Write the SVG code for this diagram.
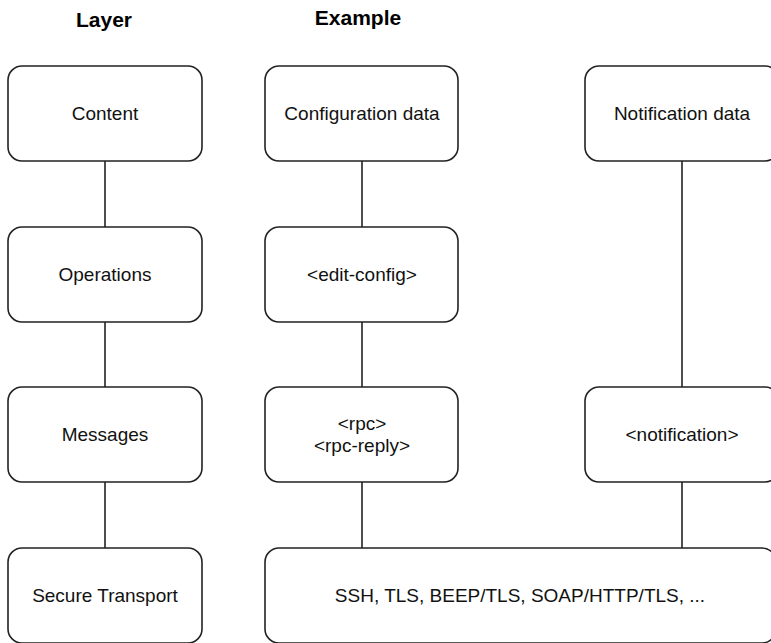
<svg xmlns="http://www.w3.org/2000/svg" width="771" height="643" viewBox="0 0 771 643">
<style>
.box{fill:#fff;stroke:#222;stroke-width:1.6}
.lbl{font-family:"Liberation Sans",Arial,sans-serif;font-size:19px;fill:#111;text-anchor:middle}
.hdr{font-family:"Liberation Sans",Arial,sans-serif;font-size:21px;font-weight:bold;fill:#000;text-anchor:middle}
.edge{stroke:#222;stroke-width:1.6;fill:none}
</style>
<rect width="771" height="643" fill="#fff"/>
<text class="hdr" x="104" y="27">Layer</text>
<text class="hdr" x="358" y="25">Example</text>
<g id="connectors">
<line class="edge" x1="105" y1="161" x2="105" y2="227"/>
<line class="edge" x1="105" y1="322" x2="105" y2="387"/>
<line class="edge" x1="105" y1="482" x2="105" y2="548"/>
<line class="edge" x1="362" y1="161" x2="362" y2="227"/>
<line class="edge" x1="362" y1="322" x2="362" y2="387"/>
<line class="edge" x1="362" y1="482" x2="362" y2="548"/>
<line class="edge" x1="682" y1="161" x2="682" y2="387"/>
<line class="edge" x1="682" y1="482" x2="682" y2="548"/>
</g>
<g id="content"><rect class="box" x="8" y="66" width="194" height="95" rx="14"/><text class="lbl" x="105" y="120">Content</text></g>
<g id="operations"><rect class="box" x="8" y="227" width="194" height="95" rx="14"/><text class="lbl" x="105" y="281">Operations</text></g>
<g id="messages"><rect class="box" x="8" y="387" width="194" height="95" rx="14"/><text class="lbl" x="105" y="441">Messages</text></g>
<g id="secure-transport"><rect class="box" x="8" y="548" width="194" height="95" rx="14"/><text class="lbl" x="105" y="602">Secure Transport</text></g>
<g id="configuration-data"><rect class="box" x="265" y="66" width="193" height="95" rx="14"/><text class="lbl" x="362" y="120">Configuration data</text></g>
<g id="edit-config"><rect class="box" x="265" y="227" width="193" height="95" rx="14"/><text class="lbl" x="362" y="281">&lt;edit-config&gt;</text></g>
<g id="rpc"><rect class="box" x="265" y="387" width="193" height="95" rx="14"/><text class="lbl" x="362" y="430">&lt;rpc&gt;</text><text class="lbl" x="362" y="452">&lt;rpc-reply&gt;</text></g>
<g id="notification-data"><rect class="box" x="585" y="66" width="194" height="95" rx="14"/><text class="lbl" x="682" y="120">Notification data</text></g>
<g id="notification"><rect class="box" x="585" y="387" width="194" height="95" rx="14"/><text class="lbl" x="682" y="441">&lt;notification&gt;</text></g>
<g id="transports"><rect class="box" x="265" y="548" width="511" height="95" rx="14"/><text class="lbl" x="520" y="602">SSH, TLS, BEEP/TLS, SOAP/HTTP/TLS, ...</text></g>
</svg>
